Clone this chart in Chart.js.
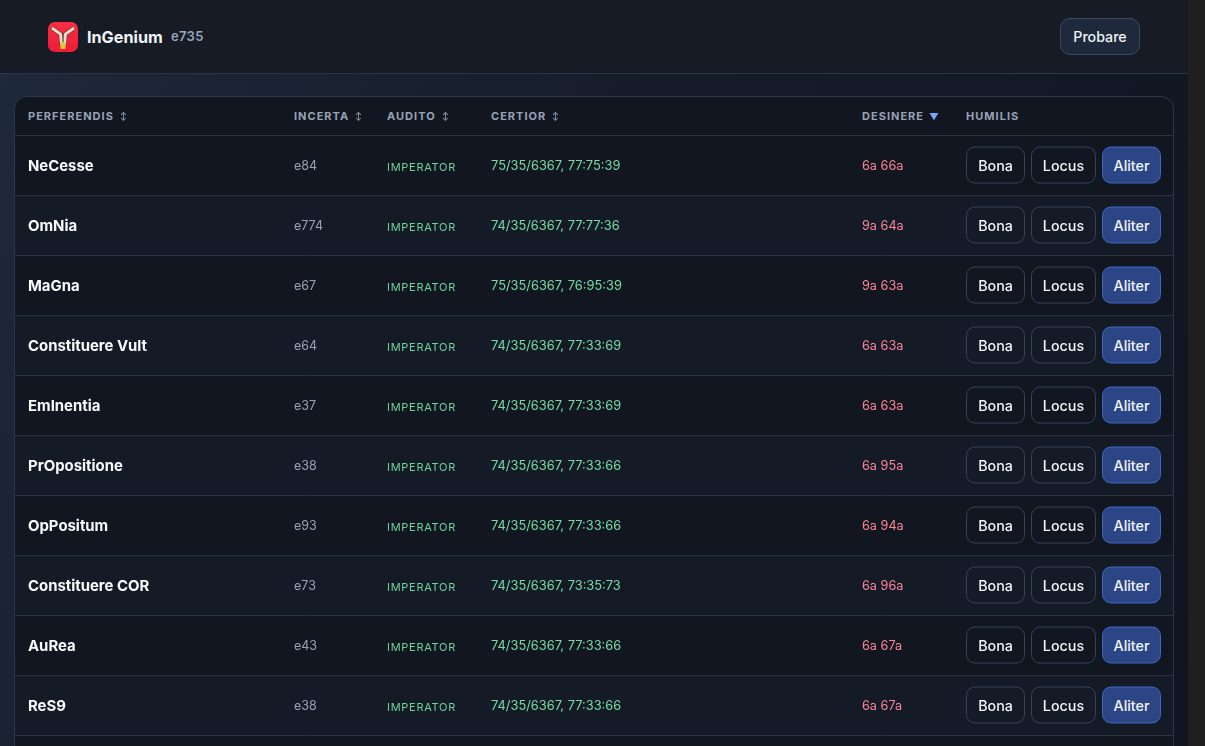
<!DOCTYPE html>
<html><head><meta charset="utf-8">
<script src="https://cdn.jsdelivr.net/npm/chart.js@4"></script>
<style>
*{box-sizing:border-box}
html,body{margin:0;height:746px;width:1205px;overflow:hidden;background:#1f1f1f;font-family:Inter,sans-serif}
#page{position:absolute;left:0;top:0;width:1188px;height:746px;overflow:hidden;background:linear-gradient(115deg,#1e293b 0%,#161c2a 45%,#0f1420 100%)}
#top{position:absolute;left:0;top:0;width:1188px;height:74px;background:#161b26;border-bottom:1px solid #2a3447}
#logo{position:absolute;left:48px;top:22px}
#brand{position:absolute;left:87px;top:27px;font-size:16.2px;font-weight:700;color:#f1f5f9;line-height:20px}
#ver{position:absolute;left:171px;top:27px;font-size:13px;font-weight:600;color:#98a6ba;line-height:18px;letter-spacing:.3px}
#probare{position:absolute;left:1060px;top:18px;width:80px;height:37px;border-radius:10px;background:#1e293b;border:1px solid #3b4a63;color:#eef2f7;font-size:14.2px;font-weight:500;display:flex;align-items:center;justify-content:center}
#card{position:absolute;left:14px;top:96px;width:1160px;height:700px;border-radius:13px;background:#111620;border:1px solid #2c3649;overflow:hidden}
#cv{position:absolute;left:0;top:38px}
.h{position:absolute;font-size:11px;font-weight:700;letter-spacing:1.02px;color:#97a3b6;line-height:14px;white-space:nowrap}
.h span{display:inline-block;will-change:transform;color:#8a96a9;font-size:8px;margin-left:6px;letter-spacing:0;vertical-align:1px}
.h span.on{color:#7aa2ff;font-size:9.5px;margin-left:5px;vertical-align:0}
.c{position:absolute;white-space:nowrap;transform:translateY(-50%);line-height:18px;margin-top:1px}
.name{font-size:14.9px;font-weight:700;color:#f8fafc}
.inc{font-size:12.5px;color:#98a2b3}
.aud{font-size:11px;color:#6dd398;letter-spacing:.72px;margin-top:2px}
.cer{font-size:12.85px;color:#75dba1}
.des{font-size:12.7px;color:#fb8496}
.b{position:absolute;height:37px;border-radius:9px;border:1px solid #364359;transform:translateY(-50%);display:flex;align-items:center;justify-content:center;font-size:14.3px;font-weight:500;color:#f1f4f8;background:transparent}
.b.p{background:#2b4585;border-color:#4169c4;color:#f1f4fb}
</style></head><body>
<div id="page">
<div id="top">
<svg id="logo" width="30" height="30" viewBox="0 0 30 30"><defs><linearGradient id="g" x1="0" y1="0" x2="0" y2="1"><stop offset="0" stop-color="#f92e45"/><stop offset="1" stop-color="#ee1c36"/></linearGradient></defs><rect width="30" height="30" rx="7" fill="url(#g)"/><path d="M4 6 L12.5 12 L13.5 23 M26 6 L17.5 12 L16.5 23" fill="none" stroke="#7d2a2a" stroke-width="4.2"/><path d="M4 6 L12.5 12 L13.5 23 M26 6 L17.5 12 L16.5 23" fill="none" stroke="#e9dfcf" stroke-width="2.8"/><path d="M15 13 V20" stroke="#8c7a5f" stroke-width="1.4"/><rect x="12.5" y="20" width="5" height="7" rx="1" fill="#d7ca3c"/></svg>
<div id="brand">InGenium</div><div id="ver">e735</div>
<div id="probare">Probare</div>
</div>
<div id="card"><canvas id="cv"></canvas></div>
</div>
<script>
const columns=["PERFERENDIS","INCERTA","AUDITO","CERTIOR","DESINERE","HUMILIS"];
const sortMarks=["↕","↕","↕","↕","▼",""];
const names=["NeCesse","OmNia","MaGna","Constituere Vult","EmInentia","PrOpositione","OpPositum","Constituere COR","AuRea","ReS9"];
const incerta=["e84","e774","e67","e64","e37","e38","e93","e73","e43","e38"];
const audito=["IMPERATOR","IMPERATOR","IMPERATOR","IMPERATOR","IMPERATOR","IMPERATOR","IMPERATOR","IMPERATOR","IMPERATOR","IMPERATOR"];
const certior=["75/35/6367, 77:75:39","74/35/6367, 77:77:36","75/35/6367, 76:95:39","74/35/6367, 77:33:69","74/35/6367, 77:33:69","74/35/6367, 77:33:66","74/35/6367, 77:33:66","74/35/6367, 73:35:73","74/35/6367, 77:33:66","74/35/6367, 77:33:66"];
const desinere=["6a 66a","9a 64a","9a 63a","6a 63a","6a 63a","6a 95a","6a 94a","6a 96a","6a 67a","6a 67a"];
const actions=["Bona","Locus","Aliter"];
const rowLabels=[...names,""];
const stripes=[0,1,0,1,0,1,0,1,0,1,0];

const colX=[13,279,372,476,847,951];
const actX=[951,1016,1087], actW=[59,65,59];
const card=document.getElementById('card');
const cv=document.getElementById('cv');
cv.style.width='1158px';cv.style.height='660px';cv.width=1158;cv.height=660;
const chart=new Chart(cv,{type:'bar',data:{labels:rowLabels,datasets:[{data:stripes,backgroundColor:'#141a26',barPercentage:1,categoryPercentage:1,borderWidth:0}]},
options:{indexAxis:'y',responsive:false,animation:false,devicePixelRatio:window.devicePixelRatio,layout:{padding:0},
plugins:{legend:{display:false},tooltip:{enabled:false}},
scales:{x:{type:'linear',min:0,max:1,display:false},
y:{type:'category',position:'left',offset:true,
 afterFit(s){s.width=0},
 ticks:{display:false},border:{display:false},
 grid:{color:'#2a3342',lineWidth:1,drawTicks:false,offset:true,z:1}}}}});
function add(cls,x,y,t){const d=document.createElement('div');d.className=cls;d.style.left=x+'px';d.style.top=y+'px';d.textContent=t;card.appendChild(d);return d}
columns.forEach((c,i)=>{const d=add('h',colX[i],12,c);if(sortMarks[i]){const s=document.createElement('span');s.textContent=sortMarks[i];if(sortMarks[i]==='▼')s.className='on';d.appendChild(s)}});
const hl=document.createElement('div');hl.style.cssText='position:absolute;left:0;top:38px;width:100%;height:1px;background:#2a3342';card.appendChild(hl);
names.forEach((n,i)=>{const y=38+chart.scales.y.getPixelForValue(i);
 add('c name',colX[0],y,n);add('c inc',colX[1],y,incerta[i]);add('c aud',colX[2],y,audito[i]);add('c cer',colX[3],y,certior[i]);add('c des',colX[4],y,desinere[i]);
 actions.forEach((a,j)=>{const b=add('b'+(j==2?' p':''),actX[j],y,a);b.style.width=actW[j]+'px'});
});
</script></body></html>
